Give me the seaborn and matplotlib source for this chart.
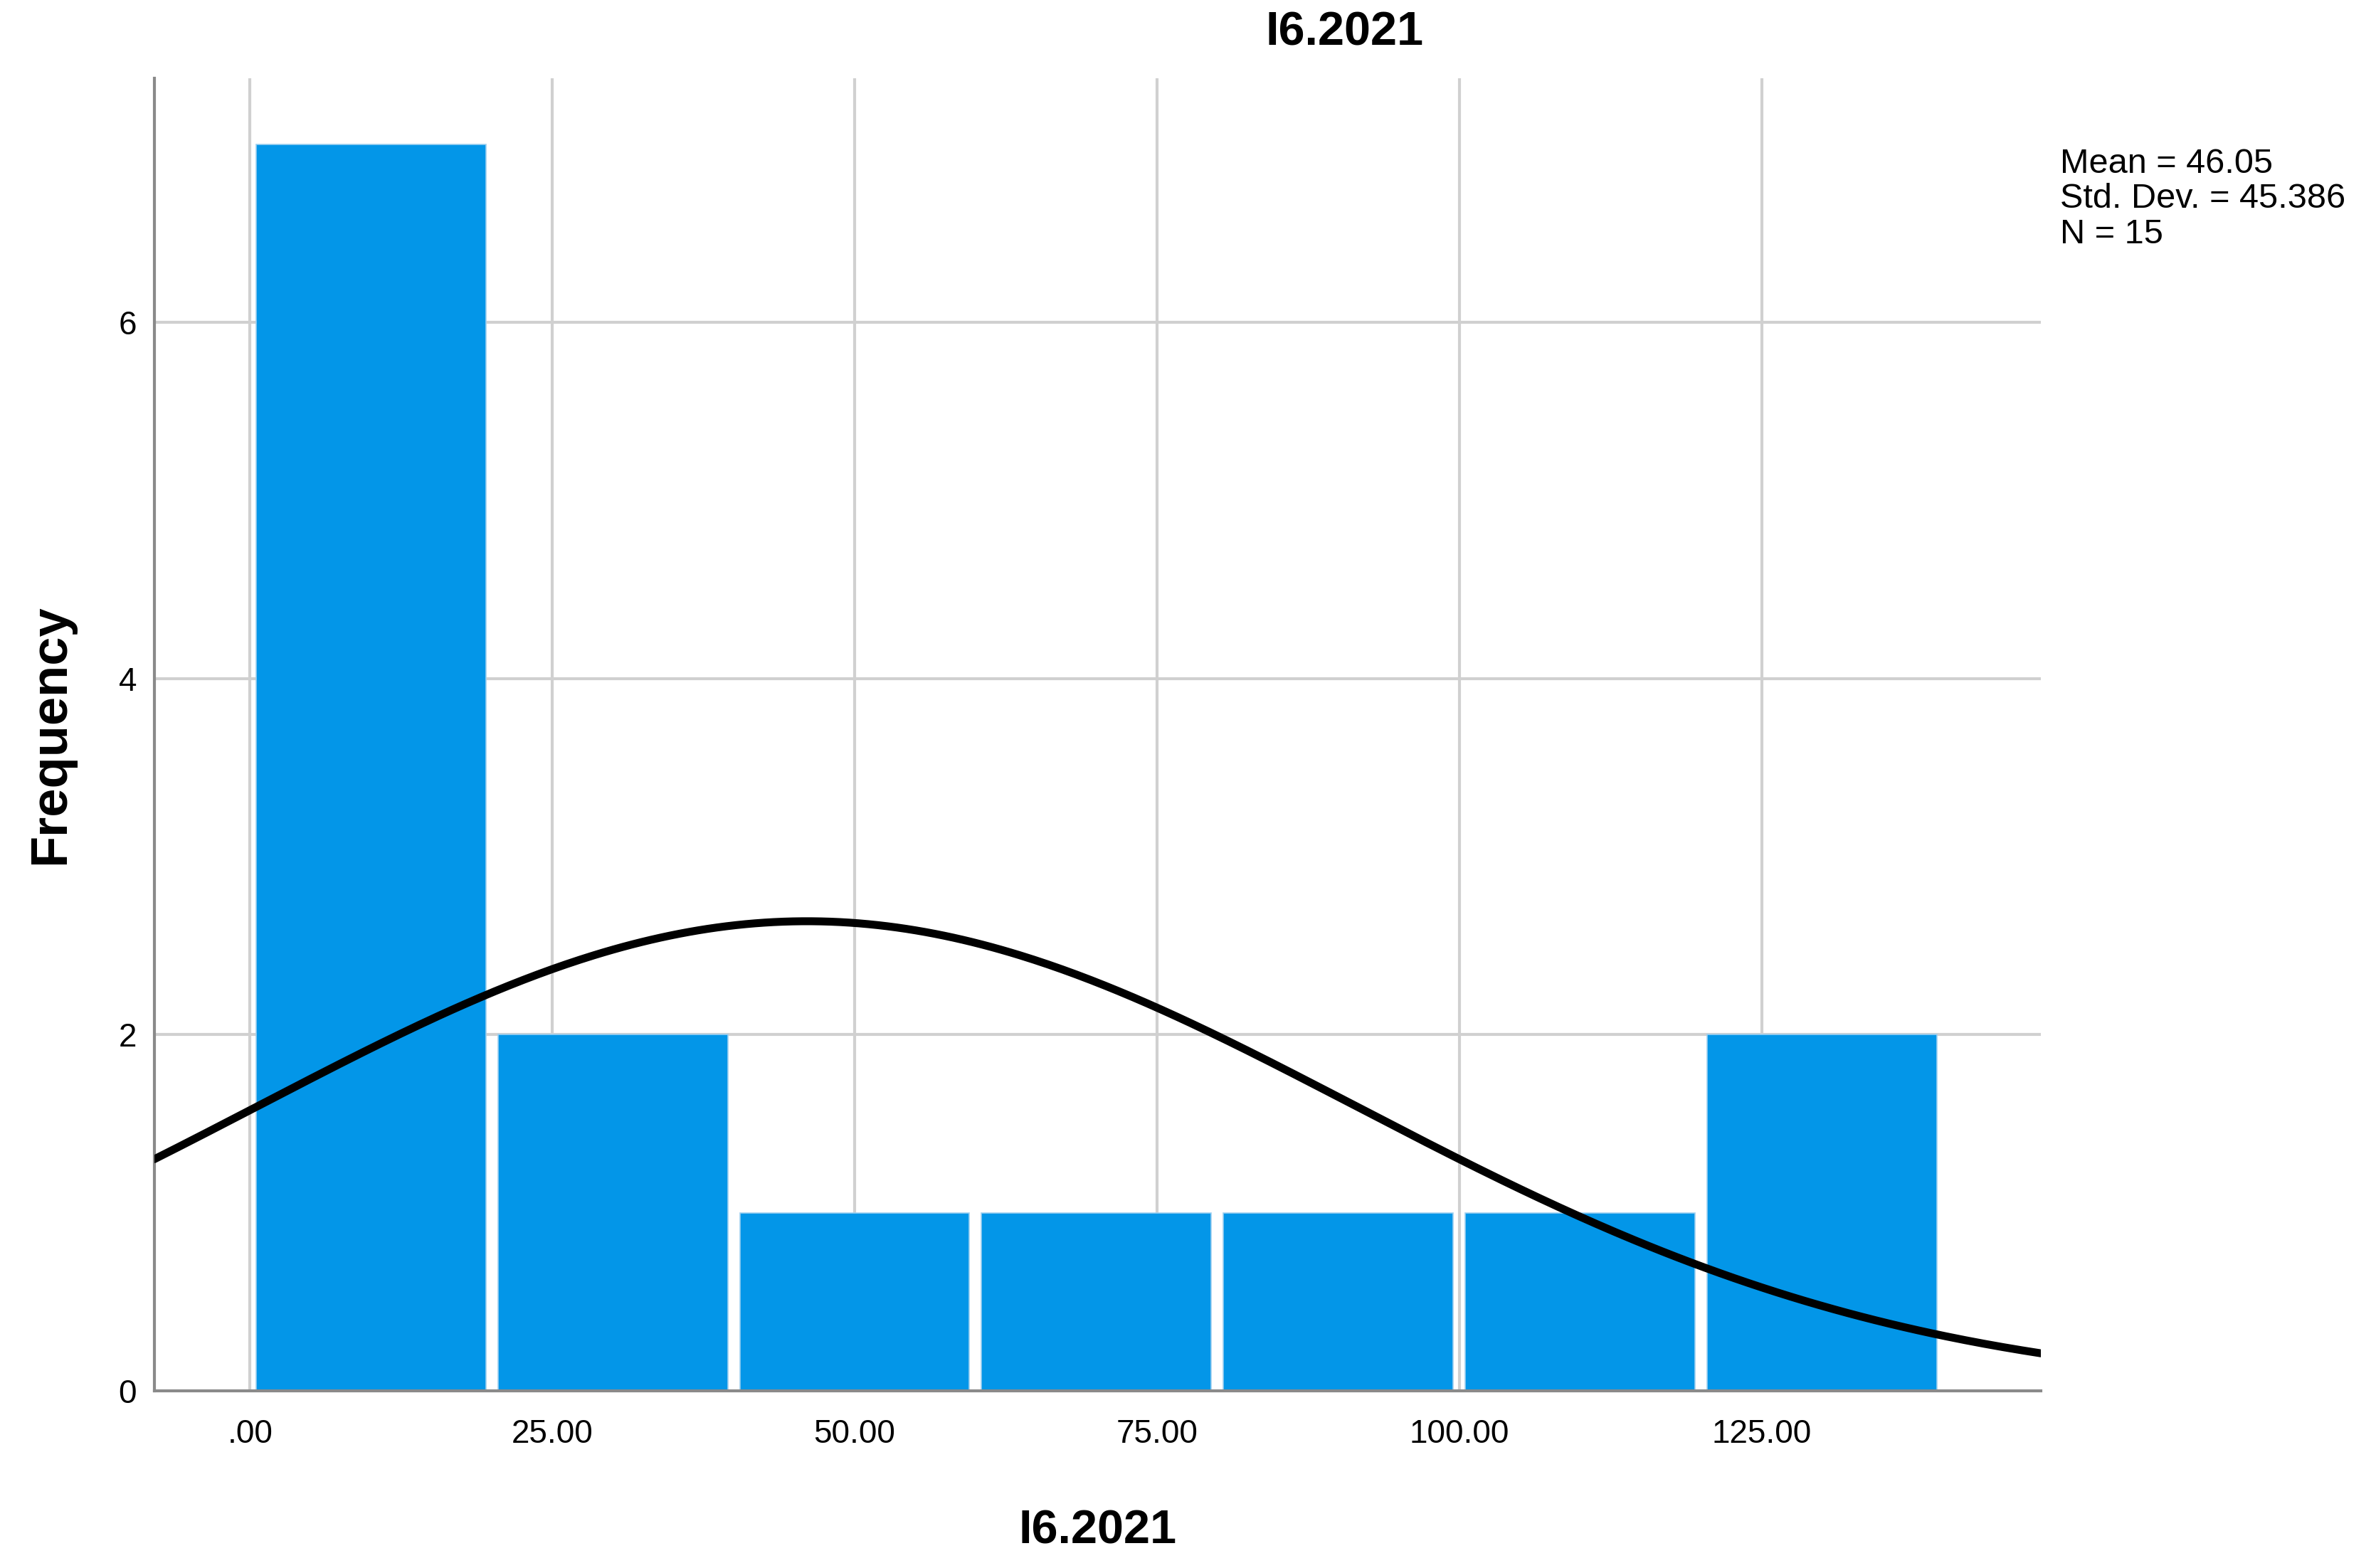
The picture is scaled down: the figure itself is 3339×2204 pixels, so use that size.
import numpy as np
import seaborn as sns
from matplotlib import pyplot as plt

# histogram (bins of width 20)
bin_edges = [0, 20, 40, 60, 80, 100, 120, 140]
bin_mids = [10, 30, 50, 70, 90, 110, 130]
counts = [7, 2, 1, 1, 1, 1, 2]

# summary stats printed in the chart
mean_val = 46.05
std_val = 45.386
n_val = 15

x_ticks = [0, 25, 50, 75, 100, 125]
x_ticklabels = [".00", "25.00", "50.00", "75.00", "100.00", "125.00"]
y_ticks = [0, 2, 4, 6]

sns.set_style("white")
plt.rcParams["font.family"] = ["Liberation Sans", "DejaVu Sans"]
plt.rcParams["text.color"] = "black"
plt.rcParams["axes.labelcolor"] = "black"
plt.rcParams["xtick.color"] = "black"
plt.rcParams["ytick.color"] = "black"

fig = plt.figure(figsize=(16.695, 11.02), dpi=200)
ax = fig.add_axes([0.065, 0.113, 0.794, 0.837])

sns.histplot(
    x=bin_mids,
    weights=counts,
    bins=bin_edges,
    shrink=0.95,
    color="#0396E8",
    alpha=1,
    edgecolor="#9DCFF0",
    linewidth=0.6,
    ax=ax,
    zorder=2,
)

# normal curve scaled to counts per bin
xlo, xhi = -7.9, 148.1
xs = np.linspace(xlo, xhi, 400)
bw = bin_edges[1] - bin_edges[0]
ys = n_val * bw / (std_val * np.sqrt(2 * np.pi)) * np.exp(-0.5 * ((xs - mean_val) / std_val) ** 2)
sns.lineplot(x=xs, y=ys, color="black", linewidth=4.0, ax=ax, zorder=3)

ax.set_xlim(xlo, xhi)
ax.set_ylim(0, 7.37)
ax.set_xticks(x_ticks)
ax.set_xticklabels(x_ticklabels)
ax.set_yticks(y_ticks)
ax.tick_params(axis="x", length=0, pad=14, labelsize=16.5)
ax.tick_params(axis="y", length=0, pad=9, labelsize=16.5)

ax.grid(True, color="#D0D0D0", linewidth=1.5, zorder=0)
ax.set_axisbelow(True)
for side in ["top", "right"]:
    ax.spines[side].set_visible(False)
for side in ["left", "bottom"]:
    ax.spines[side].set_color("#8A8A8A")
    ax.spines[side].set_linewidth(1.5)

ax.set_xlabel("I6.2021", fontsize=24, fontweight="bold", labelpad=30)
ax.set_ylabel("Frequency", fontsize=26, fontweight="bold", labelpad=22)

fig.text(0.566, 0.979, "I6.2021", ha="center", va="center", fontsize=24, fontweight="bold")
fig.text(
    0.867, 0.873,
    f"Mean = {mean_val:.2f}\nStd. Dev. = {std_val:.3f}\nN = {n_val}",
    ha="left", va="center", fontsize=17.5, linespacing=1.12,
)

plt.savefig("out.png", dpi=200)
plt.close(fig)
